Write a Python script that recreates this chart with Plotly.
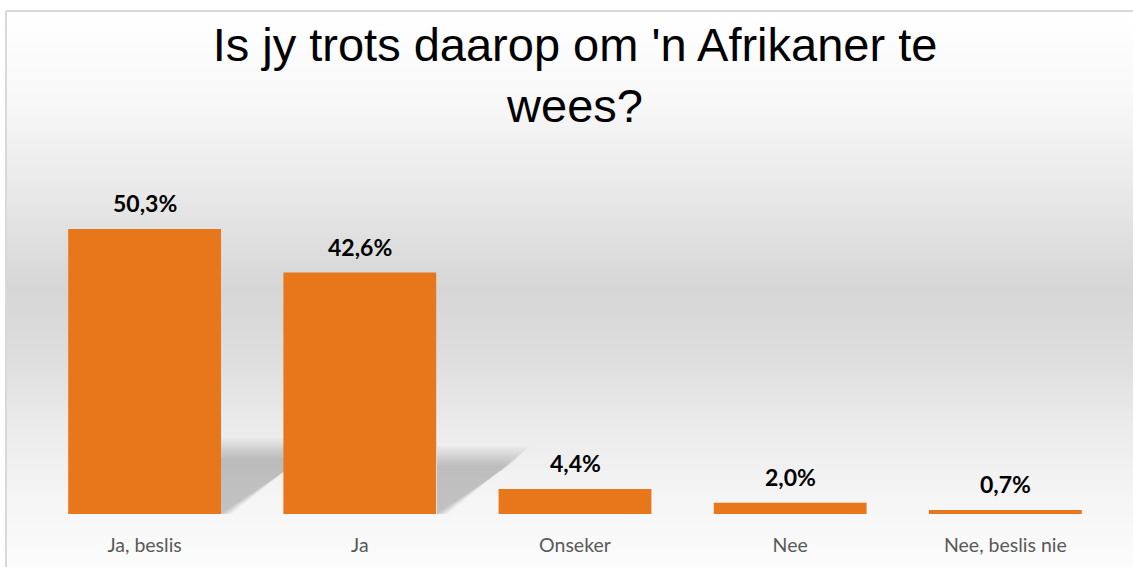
import plotly.graph_objects as go

categories = ["Ja, beslis", "Ja", "Onseker", "Nee", "Nee, beslis nie"]
values = [50.3, 42.6, 4.4, 2.0, 0.7]
value_labels = ["50,3%", "42,6%", "4,4%", "2,0%", "0,7%"]
title_text = "Is jy trots daarop om 'n Afrikaner te<br>wees?"

W, H = 1133, 567
L, R, T, B = 37, 20, 174, 53
PW, PH = W - L - R, H - T - B


def px(x):
    return (x - L) / PW


def py(y):
    return (H - B - y) / PH


shapes = []
# background vertical gradient (chart area)
stops = [(11, 255), (100, 248), (200, 231), (290, 214), (360, 222), (430, 236), (500, 245), (567, 252)]


def grey_at(y):
    for (y0, g0), (y1, g1) in zip(stops[:-1], stops[1:]):
        if y0 <= y <= y1:
            return g0 + (g1 - g0) * (y - y0) / (y1 - y0)
    return stops[-1][1]


step = 4
y = 11
while y < H:
    g = int(round(grey_at(y + step / 2)))
    shapes.append(dict(type="rect", xref="paper", yref="paper", x0=px(7), x1=px(W + 5),
                       y0=py(y + step + 0.5), y1=py(y), fillcolor=f"rgb({g},{g},{g})",
                       line=dict(width=0), layer="below"))
    y += step

# chart border (top & left)
shapes.append(dict(type="line", xref="paper", yref="paper", x0=px(6), x1=px(W + 5), y0=py(11), y1=py(11),
                   line=dict(color="#d9d9d9", width=2), layer="below"))
shapes.append(dict(type="line", xref="paper", yref="paper", x0=px(6), x1=px(6), y0=py(11), y1=py(H + 5),
                   line=dict(color="#d9d9d9", width=2), layer="below"))

# soft floor shadows behind the two tall bars
for (xr, ytop, d) in [(221, 448, 95), (437, 456, 83)]:
    for k in range(-10, 12, 2):
        path = (f"M {px(xr)},{py(H - B)} L {px(xr)},{py(ytop - k)} "
                f"L {px(xr + d + k)},{py(ytop - k)} L {px(xr + k * 0.6 + 5)},{py(H - B)} Z")
        shapes.append(dict(type="path", xref="paper", yref="paper", path=path,
                           fillcolor="rgba(0,0,0,0.02)", line=dict(width=0), layer="below"))

fig = go.Figure()
fig.add_trace(go.Bar(
    x=categories, y=values,
    marker=dict(color="#E8761A", line=dict(width=0)),
    width=0.71,
    hoverinfo="x+y",
))

annotations = []
for c, v, t in zip(categories, values, value_labels):
    annotations.append(dict(x=c, y=v, xref="x", yref="y", text=t, showarrow=False,
                            yanchor="bottom", yshift=10,
                            font=dict(family="Lato", size=23, color="#000000", weight="bold")))

fig.update_layout(
    width=W, height=H,
    margin=dict(l=L, r=R, t=T, b=B),
    paper_bgcolor="white",
    plot_bgcolor="rgba(0,0,0,0)",
    title=dict(text=title_text, x=575 / W, xanchor="center", y=1 - 61 / H, yanchor="top",
               yref="container",
               font=dict(family="Liberation Sans", size=47, color="#000000")),
    shapes=shapes,
    annotations=annotations,
    showlegend=False,
    xaxis=dict(showgrid=False, showline=False, zeroline=False, ticks="",
               tickfont=dict(family="Lato", size=19.5, color="#595959"),
               ticklabelstandoff=17),
    yaxis=dict(range=[0, 60], visible=False, showgrid=False, zeroline=False),
)

fig.write_html("out.html", config={"displayModeBar": False},
               post_script="document.body.style.margin='0px';document.body.style.overflow='hidden';")
